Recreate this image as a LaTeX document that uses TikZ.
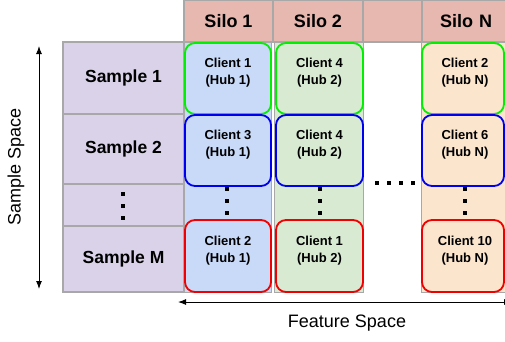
\documentclass[tikz,border=0pt]{standalone}
\usepackage{fontspec}
\setmainfont{Liberation Sans}
\usetikzlibrary{arrows.meta}

\definecolor{hdrpink}{HTML}{E6B8AF}
\definecolor{smplpurple}{HTML}{D9D2E9}
\definecolor{siloblue}{HTML}{C9DAF8}
\definecolor{silogreen}{HTML}{D9EAD3}
\definecolor{silopeach}{HTML}{FCE5CD}
\definecolor{cellgrey}{HTML}{A8A8A8}
\definecolor{hubgreen}{HTML}{00F000}
\definecolor{hubblue}{HTML}{0000F0}
\definecolor{hubred}{HTML}{F00000}

\tikzset{
	cell/.style 2 args = {draw = cellgrey, line width = 1.5pt, inner sep = 0pt,
		minimum width = #1pt, minimum height = #2pt},
	hdr/.style = {cell = {#1}{42}, fill = hdrpink, font = \fontsize{18}{20}\selectfont\bfseries},
	smpl/.style = {fill = smplpurple, font = \fontsize{17.5}{20}\selectfont\bfseries},
	client/.style = {rounded corners = 10pt, line width = 1.8pt, align = center,
		font = \fontsize{13}{17}\selectfont\bfseries},
	axislabel/.style = {font = \fontsize{18}{20}\selectfont}
}

\begin{document}
\begin{tikzpicture}[x = 1pt, y = -1pt]
	 \useasboundingbox (0, 0) rectangle (505, 341);

	 % header row
	 \node[hdr = 89] (silo1) at (228.5, 21) {Silo 1};
	 \node[hdr = 90] (silo2) at (318, 21) {Silo 2};
	 \node[hdr = 59] (silogap) at (392.5, 21) {};
	 \node[hdr = 90, text width = 86pt, align = left] (siloN) at (467, 21) {\hspace*{16pt}Silo N};

	 % sample column
	 \node[cell = {121}{72}, smpl] (sample1) at (123.5, 78) {Sample 1};
	 \node[cell = {121}{70}, smpl] (sample2) at (123.5, 149) {Sample 2};
	 \node[cell = {121}{42}, smpl] (sampledots) at (123.5, 205) {};
	 \node[cell = {121}{66}, smpl] (sampleM) at (123.5, 259) {Sample M};

	 % silo columns
	 \draw[cellgrey, fill = siloblue] (184, 42) rectangle (271, 292);
	 \draw[cellgrey, fill = silogreen] (274, 42) rectangle (363, 292);
	 \draw[cellgrey, fill = silopeach] (421, 42) rectangle (512, 292);

	 % clients
	 \draw[client, hubgreen, fill = siloblue] (185, 43) rectangle (271, 114) node (c11) at (228, 73) {\textcolor{black}{Client 1}\\\textcolor{black}{(Hub 1)}};
	 \draw[client, hubblue, fill = siloblue] (185, 115) rectangle (271, 186) node (c12) at (228, 145) {\textcolor{black}{Client 3}\\\textcolor{black}{(Hub 1)}};
	 \draw[client, hubred, fill = siloblue] (185, 220) rectangle (271, 292) node (c1M) at (228, 251) {\textcolor{black}{Client 2}\\\textcolor{black}{(Hub 1)}};

	 \draw[client, hubgreen, fill = silogreen] (276, 43) rectangle (363, 114) node (c21) at (319.5, 73) {\textcolor{black}{Client 4}\\\textcolor{black}{(Hub 2)}};
	 \draw[client, hubblue, fill = silogreen] (276, 115) rectangle (363, 186) node (c22) at (319.5, 145) {\textcolor{black}{Client 4}\\\textcolor{black}{(Hub 2)}};
	 \draw[client, hubred, fill = silogreen] (276, 220) rectangle (363, 292) node (c2M) at (319.5, 251) {\textcolor{black}{Client 1}\\\textcolor{black}{(Hub 2)}};

	 \draw[client, hubgreen, fill = silopeach] (422, 43) rectangle (504, 114) node (cN1) at (465, 73) {\textcolor{black}{Client 2}\\\textcolor{black}{(Hub N)}};
	 \draw[client, hubblue, fill = silopeach] (422, 115) rectangle (504, 186) node (cN2) at (465, 145) {\textcolor{black}{Client 6}\\\textcolor{black}{(Hub N)}};
	 \draw[client, hubred, fill = silopeach] (422, 220) rectangle (504, 292) node (cNM) at (465, 251) {\textcolor{black}{Client 10}\\\textcolor{black}{(Hub N)}};

	 % dots
	 \foreach \x in {227, 320, 465}
	 \foreach \y in {189, 201, 213}
	 \fill (\x - 1.6, \y - 1.6) rectangle (\x + 1.6, \y + 1.6);
	 \foreach \y in {194, 206, 218}
	 \fill (121.4, \y - 1.6) rectangle (124.6, \y + 1.6);
	 \foreach \x in {377, 389, 401, 413}
	 \fill (\x - 1.6, 181.4) rectangle (\x + 1.6, 184.6);

	 % axes
	 \coordinate (stop) at (39, 46);
	 \coordinate (sbot) at (39, 289);
	 \draw[line width = 1pt, {Latex[length = 8pt, width = 6pt]}-{Latex[length = 8pt, width = 6pt]}] (stop) -- (sbot);
	 \node[axislabel, rotate = 90] (samplespace) at (16, 167) {Sample Space};

	 \coordinate (fleft) at (178, 302);
	 \coordinate (fright) at (512, 302);
	 \draw[line width = 1pt, {Latex[length = 8pt, width = 6pt]}-{Latex[length = 8pt, width = 6pt]}] (fleft) -- (fright);
	 \node[axislabel] (featurespace) at (347, 323) {Feature Space};
\end{tikzpicture}
\end{document}
